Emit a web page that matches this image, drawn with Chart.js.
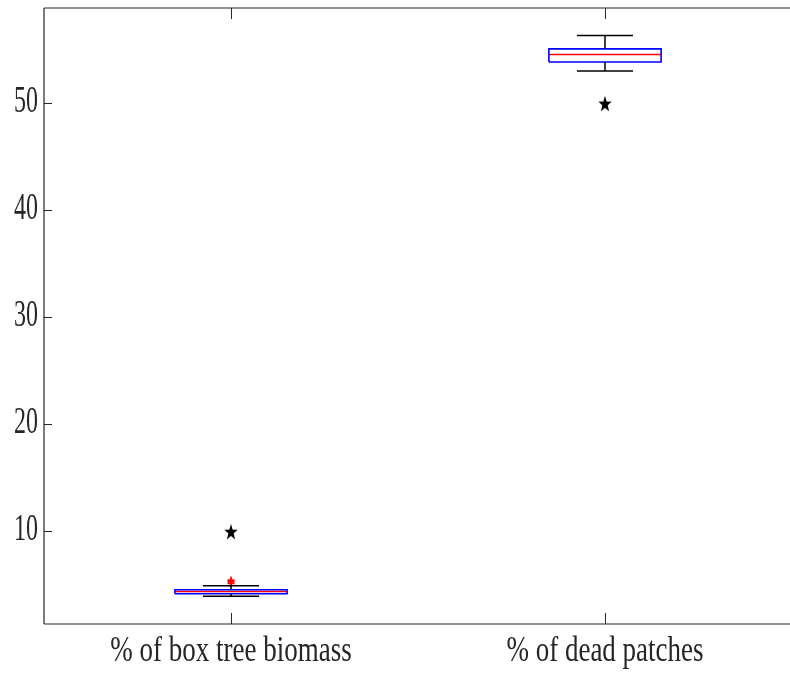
<!DOCTYPE html>
<html>
<head>
<meta charset="utf-8">
<script src="https://cdn.jsdelivr.net/npm/chart.js@4/dist/chart.umd.min.js"></script>
<style>
  html, body { margin: 0; padding: 0; background: #fff; overflow: hidden; }
  #wrap { width: 790px; height: 677px; overflow: hidden; }
  #boxChart { display: block; }
</style>
</head>
<body>
<div id="wrap"><canvas id="boxChart" width="800" height="677"></canvas></div>
<script>
// --- data ---
const categories = ['% of box tree biomass', '% of dead patches'];
const lowerWhisker = [3.95, 53.02];
const q1 = [4.17, 53.86];
const median = [4.39, 54.55];
const q3 = [4.55, 55.08];
const upperWhisker = [4.92, 56.32];
const outliers = [[5.15, 5.3, 5.45], []];
const starValues = [10, 50];
const yTicks = [10, 20, 30, 40, 50];
const yMin = 1.35, yMax = 58.9;

const BOX_HALF = 0.15;   // half box width in category units
const CAP_HALF = 0.075;  // half whisker cap width
const AXIS_COLOR = '#262626';

// filled pentagram marker (slightly tall, like the figure)
function makeStar(w, h) {
    const c = document.createElement('canvas');
    c.width = w; c.height = h;
    const g = c.getContext('2d');
    g.translate(w / 2, h / 2 + 1);
    g.scale(1, h / w);
    g.beginPath();
    for (let i = 0; i < 10; i++) {
        const r = i % 2 === 0 ? w / 2 : w / 5;
        const a = -Math.PI / 2 + i * Math.PI / 5;
        g.lineTo(r * Math.cos(a), r * Math.sin(a));
    }
    g.closePath();
    g.fillStyle = '#000';
    g.fill();
    return c;
}
const starImg = makeStar(14, 17);

function seg(points, color, width) {
    return {
        type: 'scatter', showLine: true, data: points,
        borderColor: color, borderWidth: width, pointRadius: 0,
        fill: false, tension: 0
    };
}

const datasets = [];
categories.forEach((cat, i) => {
    const c = i + 1;
    // whiskers
    datasets.push(seg([{x: c, y: q3[i]}, {x: c, y: upperWhisker[i]}], '#000', 1.5));
    datasets.push(seg([{x: c, y: q1[i]}, {x: c, y: lowerWhisker[i]}], '#000', 1.5));
    datasets.push(seg([{x: c - CAP_HALF, y: upperWhisker[i]}, {x: c + CAP_HALF, y: upperWhisker[i]}], '#000', 1.5));
    datasets.push(seg([{x: c - CAP_HALF, y: lowerWhisker[i]}, {x: c + CAP_HALF, y: lowerWhisker[i]}], '#000', 1.5));
    // box
    datasets.push(seg([
        {x: c - BOX_HALF, y: q1[i]}, {x: c + BOX_HALF, y: q1[i]},
        {x: c + BOX_HALF, y: q3[i]}, {x: c - BOX_HALF, y: q3[i]},
        {x: c - BOX_HALF, y: q1[i]}
    ], '#0000ff', 1.6));
    // median
    datasets.push(seg([{x: c - BOX_HALF, y: median[i]}, {x: c + BOX_HALF, y: median[i]}], '#ff0000', 1.6));
    // outliers
    if (outliers[i].length) {
        datasets.push({
            type: 'scatter',
            data: outliers[i].map(v => ({x: c, y: v})),
            pointStyle: 'cross', pointRadius: 3.5, pointBorderWidth: 1.6,
            borderColor: '#ff0000', backgroundColor: '#ff0000'
        });
    }
});
datasets.push({
    type: 'scatter',
    data: starValues.map((v, i) => ({x: i + 1, y: v})),
    pointStyle: starImg, pointRadius: 7
});

// axes frame, inward ticks and stretched serif labels (MATLAB look)
const matlabAxes = {
    id: 'matlabAxes',
    afterDraw(chart) {
        const {ctx, chartArea: a, scales: {x, y}} = chart;
        ctx.save();
        ctx.strokeStyle = AXIS_COLOR;
        ctx.lineWidth = 1.2;
        ctx.beginPath();
        ctx.moveTo(a.left, a.top); ctx.lineTo(a.right, a.top);
        ctx.moveTo(a.left, a.top); ctx.lineTo(a.left, a.bottom);
        ctx.moveTo(a.left, a.bottom); ctx.lineTo(a.right, a.bottom);
        ctx.stroke();

        ctx.lineWidth = 1;
        ctx.beginPath();
        yTicks.forEach(t => {
            const py = Math.round(y.getPixelForValue(t)) + 0.5;
            ctx.moveTo(a.left, py); ctx.lineTo(a.left + 8, py);
        });
        categories.forEach((cat, i) => {
            const px = Math.round(x.getPixelForValue(i + 1)) + 0.5;
            ctx.moveTo(px, a.top); ctx.lineTo(px, a.top + 11);
            ctx.moveTo(px, a.bottom); ctx.lineTo(px, a.bottom - 11);
        });
        ctx.stroke();

        ctx.fillStyle = AXIS_COLOR;
        ctx.font = '24px "Liberation Serif", "DejaVu Serif", serif';
        ctx.textAlign = 'right';
        ctx.textBaseline = 'middle';
        yTicks.forEach(t => {
            ctx.save();
            ctx.translate(38, y.getPixelForValue(t) - 1);
            ctx.scale(1, 1.6);
            ctx.fillText(String(t), 0, 0);
            ctx.restore();
        });

        ctx.font = '27px "Liberation Serif", "DejaVu Serif", serif';
        ctx.textAlign = 'center';
        ctx.textBaseline = 'alphabetic';
        categories.forEach((cat, i) => {
            ctx.save();
            ctx.translate(x.getPixelForValue(i + 1), 661);
            ctx.scale(1, 1.3);
            ctx.fillText(cat, 0, 0);
            ctx.restore();
        });
        ctx.restore();
    }
};

new Chart(document.getElementById('boxChart'), {
    type: 'scatter',
    data: { datasets },
    options: {
        responsive: false,
        animation: false,
        devicePixelRatio: 1,
        layout: { padding: { top: 8, right: 2, left: 0, bottom: 0 } },
        plugins: { legend: { display: false }, tooltip: { enabled: false } },
        scales: {
            x: {
                type: 'linear', min: 0.5, max: 2.5,
                ticks: { display: false },
                grid: { display: false },
                border: { display: false },
                afterFit(s) { s.height = 53; }
            },
            y: {
                type: 'linear', min: yMin, max: yMax,
                ticks: { display: false },
                grid: { display: false },
                border: { display: false },
                afterFit(s) { s.width = 44; }
            }
        }
    },
    plugins: [matlabAxes]
});
</script>
</body>
</html>
